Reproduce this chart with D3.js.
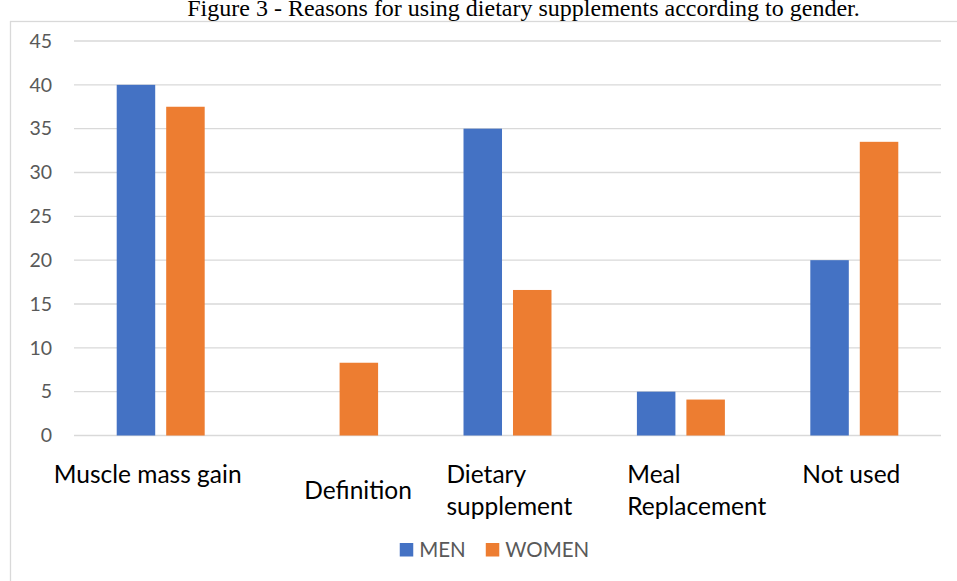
<!DOCTYPE html>
<html>
<head>
<meta charset="utf-8">
<script src="https://cdn.jsdelivr.net/npm/d3@7"></script>
<style>
  html, body { margin: 0; padding: 0; background: #fff; }
  svg { display: block; }
</style>
</head>
<body>
<svg id="chart" width="957" height="581"></svg>
<script>
// Reasons for using dietary supplements, by gender (%)
const categories = ["Muscle mass gain", "Definition", "Dietary supplement", "Meal Replacement", "Not used"];
const categoryLines = [["Muscle mass gain"], ["Definition"], ["Dietary", "supplement"], ["Meal", "Replacement"], ["Not used"]];
const seriesNames = ["MEN", "WOMEN"];
const menValues = [40, 0, 35, 5, 20];
const womenValues = [37.5, 8.3, 16.6, 4.1, 33.5];
const yTicks = [0, 5, 10, 15, 20, 25, 30, 35, 40, 45];
const titleText = "Figure 3 - Reasons for using dietary supplements according to gender.";

const colors = { MEN: "#4472C4", WOMEN: "#ED7D31" };

// layout
const W = 957, H = 581;
const plot = { left: 74, right: 941, top: 41, bottom: 435.5 };
// horizontal nudges of the category labels relative to their band centre
const labelShift = [-13, 24, 2, 16, -3];

const svg = d3.select("#chart");

// outer chart frame
svg.append("rect")
  .attr("x", 10.5).attr("y", 21.5)
  .attr("width", W + 10).attr("height", H)
  .attr("fill", "none").attr("stroke", "#D9D9D9").attr("stroke-width", 1.3);

// title, sitting just above the frame
svg.append("text")
  .attr("x", 523.5).attr("y", 16)
  .attr("text-anchor", "middle")
  .attr("font-family", "'Liberation Serif', 'Times New Roman', serif")
  .attr("font-size", 24)
  .attr("fill", "#000")
  .text(titleText);

const x0 = d3.scaleBand().domain(categories).range([plot.left, plot.right]).paddingInner(0).paddingOuter(0);
const x1 = d3.scaleBand().domain(seriesNames).range([0, x0.bandwidth()]).paddingInner(0.222).paddingOuter(0.863);
const y = d3.scaleLinear().domain([0, 45]).range([plot.bottom, plot.top]);

// gridlines
svg.append("g")
  .selectAll("line")
  .data(yTicks)
  .join("line")
  .attr("x1", plot.left).attr("x2", plot.right)
  .attr("y1", d => y(d)).attr("y2", d => y(d))
  .attr("stroke", "#D9D9D9").attr("stroke-width", 1.3);

// y axis labels
const yAxis = d3.axisLeft(y).tickValues(yTicks).tickSize(0).tickPadding(0);
const gy = svg.append("g").attr("transform", `translate(52,0)`).call(yAxis);
gy.select(".domain").remove();
gy.selectAll("text")
  .attr("font-family", "Lato, 'Open Sans', sans-serif")
  .attr("font-size", 19.5)
  .attr("fill", "#595959");

// bars
const rows = categories.map((c, i) => ({ cat: c, values: [
  { key: "MEN", value: menValues[i] },
  { key: "WOMEN", value: womenValues[i] }
]}));

const groups = svg.append("g")
  .selectAll("g")
  .data(rows)
  .join("g")
  .attr("transform", d => `translate(${x0(d.cat)},0)`);

groups.selectAll("rect")
  .data(d => d.values.filter(v => v.value > 0))
  .join("rect")
  .attr("x", d => x1(d.key))
  .attr("width", x1.bandwidth())
  .attr("y", d => y(d.value))
  .attr("height", d => y(0) - y(d.value))
  .attr("fill", d => colors[d.key]);

// category labels: multi-line labels are left aligned inside a centred block
const labelFont = "Lato, 'Open Sans', sans-serif";
const labelSize = 24.5;
const lineGap = 32;
const firstBaseline = 483;
const catG = svg.append("g");
categories.forEach((c, i) => {
  const lines = categoryLines[i];
  const g = catG.append("g");
  const t = g.append("text")
    .attr("font-family", labelFont)
    .attr("font-size", labelSize)
    .attr("fill", "#000");
  // Definition sits midway between the two rows of wrapped labels
  const baseY = (lines.length === 1 && c === "Definition") ? firstBaseline + lineGap / 2 : firstBaseline;
  lines.forEach((ln, k) => {
    t.append("tspan").attr("x", 0).attr("y", baseY + k * lineGap).text(ln);
  });
  const bw = t.node().getBBox().width;
  const cx = x0(c) + x0.bandwidth() / 2 + labelShift[i];
  g.attr("transform", `translate(${cx - bw / 2},0)`);
});

// legend
const legendSize = 20.5;
const sq = 13.5;
const legend = svg.append("g");
let lx = 0;
seriesNames.forEach((s, i) => {
  const item = legend.append("g").attr("transform", `translate(${lx},0)`);
  item.append("rect").attr("x", 0).attr("y", 543).attr("width", sq).attr("height", sq).attr("fill", colors[s]);
  const t = item.append("text")
    .attr("x", sq + 6).attr("y", 556.5)
    .attr("font-family", labelFont)
    .attr("font-size", legendSize)
    .attr("fill", "#595959")
    .text(s);
  lx += sq + 6 + t.node().getComputedTextLength() + 20;
});
const lw = lx - 20;
legend.attr("transform", `translate(${494.5 - lw / 2},0)`);
</script>
</body>
</html>
